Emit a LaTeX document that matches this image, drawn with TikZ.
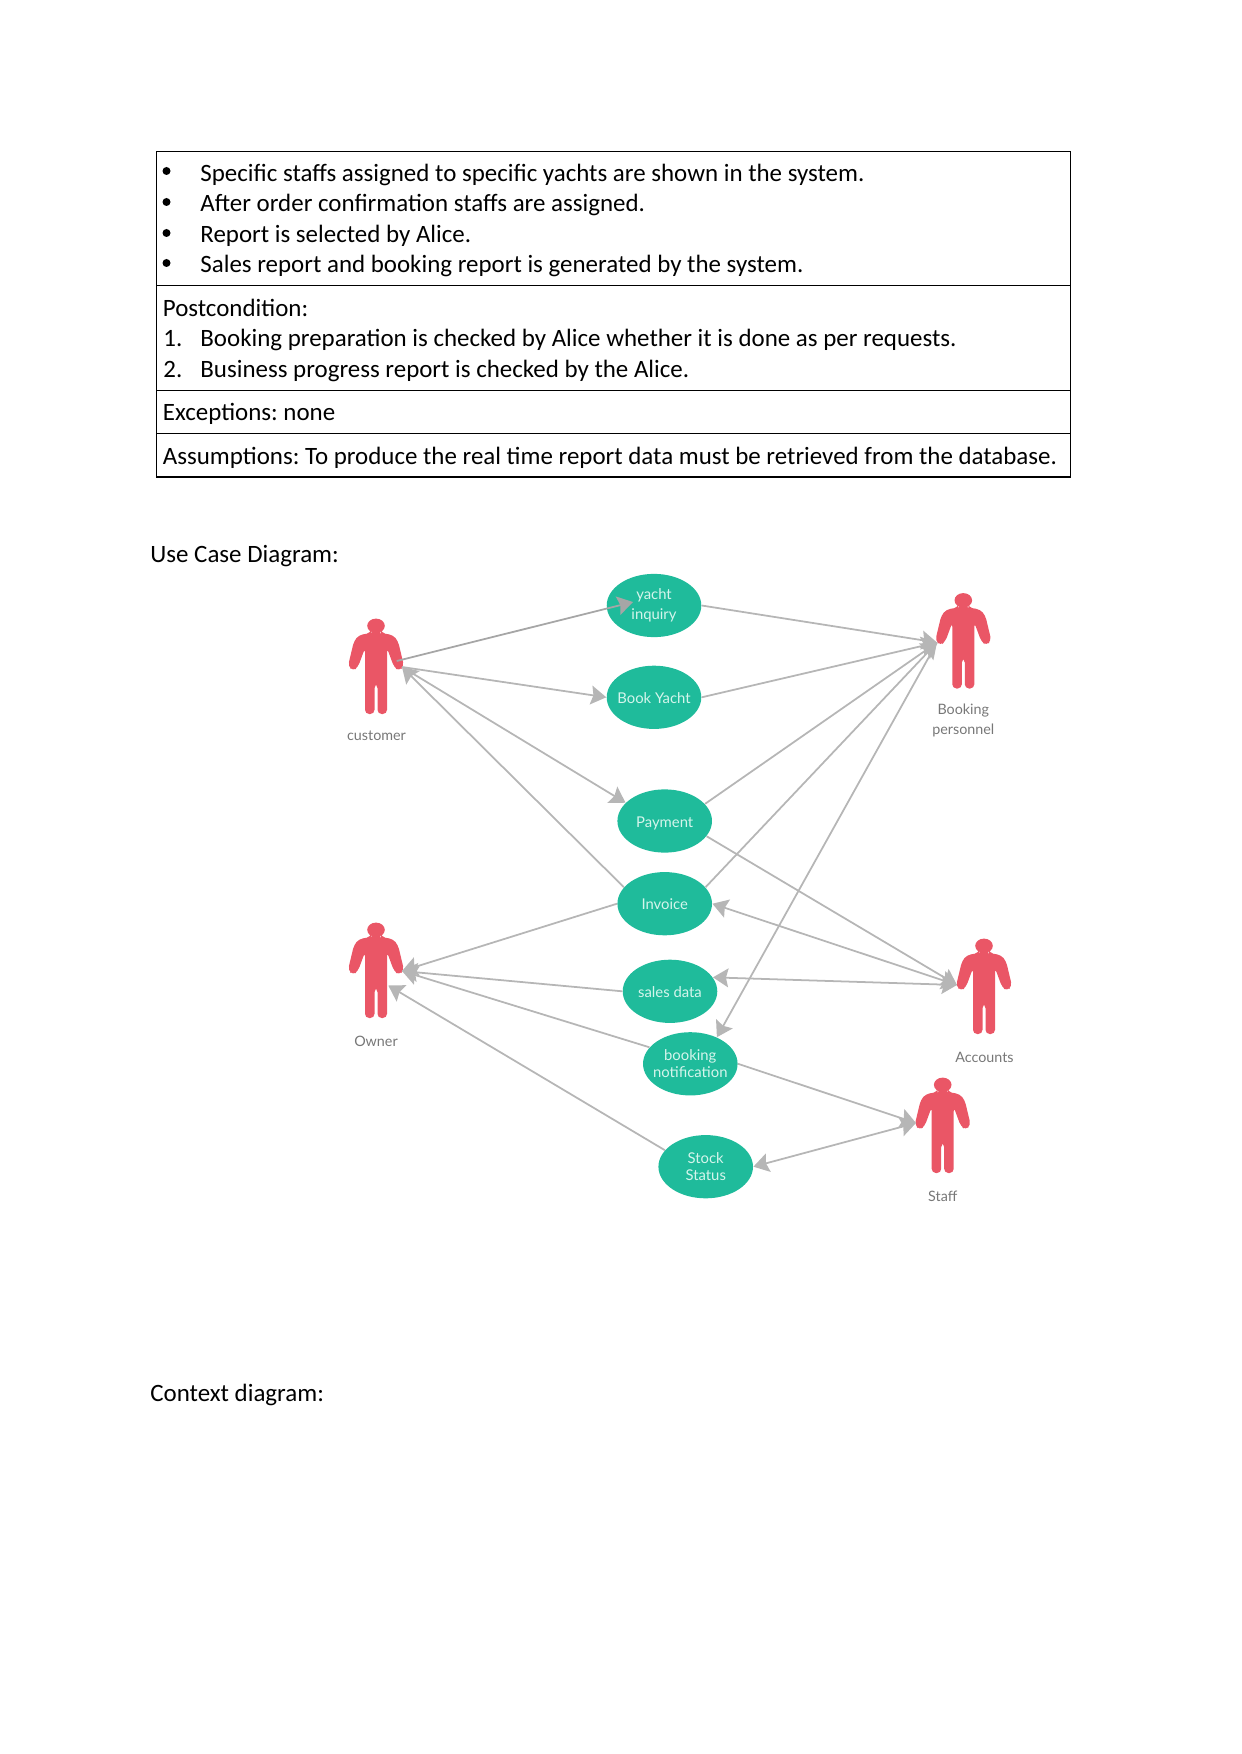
\documentclass[tikz,border=0pt]{standalone}
\usepackage{fontspec}
\usepackage{xcolor}
\usetikzlibrary{arrows.meta,shapes.geometric}
\setmainfont{Carlito}
\newfontfamily\diagramfont{Lato}
\definecolor{caseteal}{HTML}{1FBB9B}
\definecolor{casetext}{HTML}{D5F5EC}
\definecolor{actorred}{HTML}{EA5666}
\definecolor{linegray}{HTML}{B6B6B6}
\definecolor{linedark}{HTML}{A6A6A6}
\definecolor{labelgray}{HTML}{777777}
\frenchspacing
\tikzset{
	usecase/.style={ellipse, fill=caseteal, text=casetext, minimum width=1.6cm, minimum height=1.07cm, inner xsep=-1.2mm, inner ysep=0pt, align=center, font=\diagramfont\fontsize{7.15}{8.4}\selectfont},
	usecaseone/.style={usecase, text height=2.6mm, text depth=0.5mm},
	actorlabel/.style={text=labelgray, inner sep=0pt, align=center, font=\diagramfont\fontsize{6.9}{9.2}\selectfont},
	doctext/.style={anchor=base west, inner sep=0pt, font=\fontsize{12.01}{14}\selectfont},
	link/.style={draw=linegray, line width=0.85pt, -{Stealth[length=2.6mm,width=3.2mm,inset=0.4mm]}},
	linkboth/.style={link, {Stealth[length=2.6mm,width=3.2mm,inset=0.4mm]}-{Stealth[length=2.6mm,width=3.2mm,inset=0.4mm]}},
	actor/.pic={
		\fill[actorred] (0,6.8) ellipse [x radius=8.8, y radius=7.2];
		\fill[actorred, rounded corners=2pt] (-5,11) -- (-5,14) -- (-17,16) -- (-22,22) -- (-28,47) -- (-23,52) -- (-18,48) -- (-11,29) -- (-11,95) -- (-1.5,95) -- (-1.5,65)
		-- (1.5,65) -- (1.5,95) -- (11,95) -- (11,29) -- (18,48) -- (23,52) -- (28,47) -- (22,22) -- (17,16) -- (5,14) -- (5,11) -- cycle;
	}
}
\begin{document}
\begin{tikzpicture}[x=0.016922cm, y=-0.016922cm]
	\useasboundingbox (0,0) rectangle (1241,1754);
	% table
	\draw[line width=0.4pt] (156.5,151) -- (1070.5,151) -- (1070.5,477) -- (156.5,477) -- cycle;
	\draw[line width=0.4pt] (156.5,285.5) -- (1070.5,285.5);
	\draw[line width=0.4pt] (156.5,390.5) -- (1070.5,390.5);
	\draw[line width=0.4pt] (156.5,433.5) -- (1070.5,433.5);
	\draw[line width=0.8pt] (156.5,477) -- (1070.5,477);
	\fill (166.5,171) circle (4);
	\fill (166.5,202) circle (4);
	\fill (166.5,233) circle (4);
	\fill (166.5,263) circle (4);
	\node[doctext] (step1) at (200,181.8) {Specific staffs assigned to specific yachts are shown in the system.};
	\node[doctext] (step2) at (200,211.8) {After order confirmation staffs are assigned.};
	\node[doctext] (step3) at (200,242.3) {Report is selected by Alice.};
	\node[doctext] (step4) at (200,272.8) {Sales report and booking report is generated by the system.};
	\node[doctext] (post) at (162.5,316.8) {Postcondition:};
	\node[doctext] (postnum1) at (163,346.8) {1.};
	\node[doctext] (post1) at (200,346.8) {Booking preparation is checked by Alice whether it is done as per requests.};
	\node[doctext] (postnum2) at (163,377.8) {2.};
	\node[doctext] (post2) at (200,377.8) {Business progress report is checked by the Alice.};
	\node[doctext] (except) at (162.5,421) {Exceptions: none};
	\node[doctext] (assume) at (162.5,464.5) {Assumptions: To produce the real time report data must be retrieved from the database.};
	\node[doctext] (usecasetitle) at (150,562) {Use Case Diagram:};
	\node[doctext] (contexttitle) at (150,1401) {Context diagram:};
	% actors
	\pic at (376,619) {actor};
	\pic at (376,923) {actor};
	\pic at (963.3,593.5) {actor};
	\pic at (984,939) {actor};
	\pic at (942.7,1078) {actor};
	\node[actorlabel] (customer) at (376.5,735.5) {customer};
	\node[actorlabel] (owner) at (376,1041.5) {Owner};
	\node[actorlabel] (booking) at (963.3,720.5) {Booking\\personnel};
	\node[actorlabel] (accounts) at (984.5,1057) {Accounts};
	\node[actorlabel] (staff) at (942.7,1196) {Staff};
	% use cases
	\node[usecase] (yacht) at (654,605.5) {yacht\\[1.2pt]inquiry};
	\node[usecaseone] (book) at (654,697.3) {Book Yacht};
	\node[usecaseone] (payment) at (664.7,821) {Payment};
	\node[usecaseone] (invoice) at (664.7,903.7) {Invoice};
	\node[usecaseone] (sales) at (670,991.3) {sales data};
	\node[usecase] (notif) at (690.3,1063.8) {booking\\notification};
	\node[usecase] (stock) at (705.7,1166.7) {Stock\\Status};
	% connector ends
	\coordinate (customerArm) at (396.7,661);
	\coordinate (customerHand) at (402,667);
	\coordinate (ownerHand) at (402,971);
	\coordinate (ownerHip) at (388.3,985.5);
	\coordinate (bookingHand) at (937,642.5);
	\coordinate (accountsHand) at (957,985);
	\coordinate (staffHand) at (916,1123);
	\coordinate (yachtIn) at (633,602);
	% links
	\draw[link, draw=linedark] (customerArm) -- (yachtIn);
	\draw[link] (customerHand) -- (book.west);
	\draw[link] (customerHand) -- (payment.155);
	\draw[link] (invoice.158) -- (customerHand);
	\draw[link] (yacht.east) -- (bookingHand);
	\draw[link] (book.east) -- (bookingHand);
	\draw[link] (payment.23) -- (bookingHand);
	\draw[link] (invoice.22) -- (bookingHand);
	\draw[link] (bookingHand) -- (notif.45);
	\draw[link] (payment.340) -- (accountsHand);
	\draw[linkboth] (accountsHand) -- (invoice.east);
	\draw[linkboth] (accountsHand) -- (sales.18);
	\draw[link] (notif.east) -- (staffHand);
	\draw[linkboth] (staffHand) -- (stock.east);
	\draw[link] (invoice.west) -- (ownerHand);
	\draw[link] (sales.west) -- (ownerHand);
	\draw[link] (notif.158) -- (ownerHand);
	\draw[link] (stock.158) -- (ownerHip);
\end{tikzpicture}
\end{document}
